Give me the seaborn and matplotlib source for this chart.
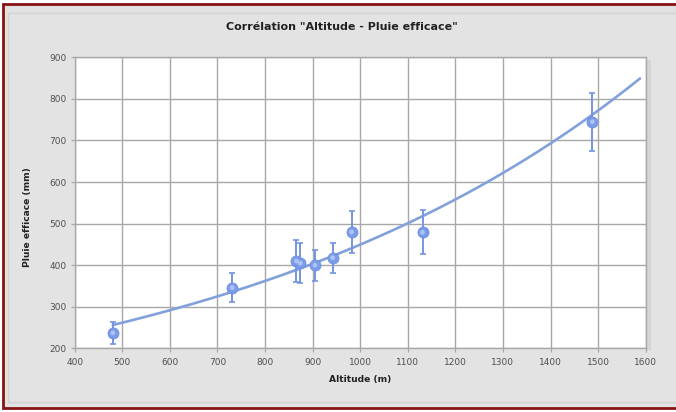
import numpy as np
import pandas as pd
import matplotlib
matplotlib.use("Agg")
import matplotlib.pyplot as plt
from matplotlib.patches import Rectangle
import seaborn as sns

# Stations: altitude (m), effective rainfall (mm) and its uncertainty (mm)
altitude = [480, 731, 866, 874, 905, 942, 982, 1131, 1488]
pluie = [237, 346, 410, 405, 400, 418, 480, 479, 745]
incertitude = [27, 35, 50, 48, 37, 36, 50, 53, 70]

x_ticks = [400, 500, 600, 700, 800, 900, 1000, 1100, 1200, 1300, 1400, 1500, 1600]
y_ticks = [200, 300, 400, 500, 600, 700, 800, 900]

titre = 'Corrélation "Altitude - Pluie efficace"'
label_x = "Altitude (m)"
label_y = "Pluie efficace (mm)"

df = pd.DataFrame({"altitude": altitude, "pluie": pluie, "err": incertitude})

# Exponential trend line: least squares on ln(y), extended 100 m beyond the data
b, ln_a = np.polyfit(df["altitude"], np.log(df["pluie"]), 1)
x_fit = np.linspace(df["altitude"].min(), df["altitude"].max() + 100, 300)
trend = pd.DataFrame({"altitude": x_fit, "pluie": np.exp(ln_a + b * x_fit)})

sns.set_theme(style="whitegrid")
plt.rcParams["font.family"] = ["DejaVu Sans"]

W, H = 676, 412
fig = plt.figure(figsize=(W / 100, H / 100), dpi=100, facecolor="white")

def fx(px):
    return px / W

def fy(py):
    return 1 - py / H

# Outer frame with dark red border and grey chart area
fig.patches.append(Rectangle((fx(3), fy(408)), fx(690) - fx(3), fy(4) - fy(408),
                             transform=fig.transFigure, facecolor="#e2e2e2",
                             edgecolor="#861414", linewidth=2.0, zorder=-3))
fig.patches.append(Rectangle((fx(8), fy(402)), fx(690) - fx(8), fy(13) - fy(402),
                             transform=fig.transFigure, facecolor="#e3e3e3",
                             edgecolor="#d2d2d2", linewidth=1.0, zorder=-2))
# Soft shadow along the right side of the plot area
fig.patches.append(Rectangle((fx(645.7), fy(350)), 5 / W, (350 - 60) / H,
                             transform=fig.transFigure, facecolor="#d5d5d5",
                             edgecolor="none", zorder=-1))

ax = fig.add_axes([fx(74.7), fy(348.3), (645.7 - 74.7) / W, (348.3 - 57.3) / H])
ax.set_zorder(2)
ax.set_facecolor("white")

grid_c = "#a8a8a8"
ax.grid(True, color=grid_c, linewidth=1.0)
for s in ax.spines.values():
    s.set_color(grid_c)
    s.set_linewidth(1.0)

sns.lineplot(data=trend, x="altitude", y="pluie", ax=ax, color="#82a0da",
             linewidth=1.9, zorder=3)

ax.errorbar(df["altitude"], df["pluie"], yerr=df["err"], fmt="none",
            ecolor="#7495e2", elinewidth=1.4, capsize=2.2, capthick=1.2, zorder=4)

sns.scatterplot(data=df, x="altitude", y="pluie", ax=ax, s=64, color="#7a9be8",
                edgecolor="#6a8de0", linewidth=0.5, zorder=5)
sns.scatterplot(data=df, x="altitude", y="pluie", ax=ax, s=12, color="#aec3f3",
                edgecolor="none", linewidth=0, zorder=6)

ax.set_xlim(400, 1600)
ax.set_ylim(200, 900)
ax.set_xticks(x_ticks)
ax.set_yticks(y_ticks)
ax.tick_params(axis="both", which="major", labelsize=6.5, labelcolor="#505050",
               color=grid_c, length=3, width=0.9, direction="out")
ax.tick_params(axis="x", pad=4, bottom=True)
ax.tick_params(axis="y", pad=3, left=True)

ax.set_xlabel(label_x, fontsize=6.6, fontweight="bold", color="#222222")
ax.set_ylabel(label_y, fontsize=6.6, fontweight="bold", color="#222222")
ax.xaxis.set_label_coords(0.5, -0.108)
ax.yaxis.set_label_coords(-0.083, 0.45)
ax.xaxis.label.set_va("center")
ax.yaxis.label.set_va("center")

fig.text(fx(342), fy(27), titre, ha="center", va="center", fontsize=8,
         fontweight="bold", color="#222222")

fig.savefig("out.png", dpi=100, facecolor=fig.get_facecolor())
